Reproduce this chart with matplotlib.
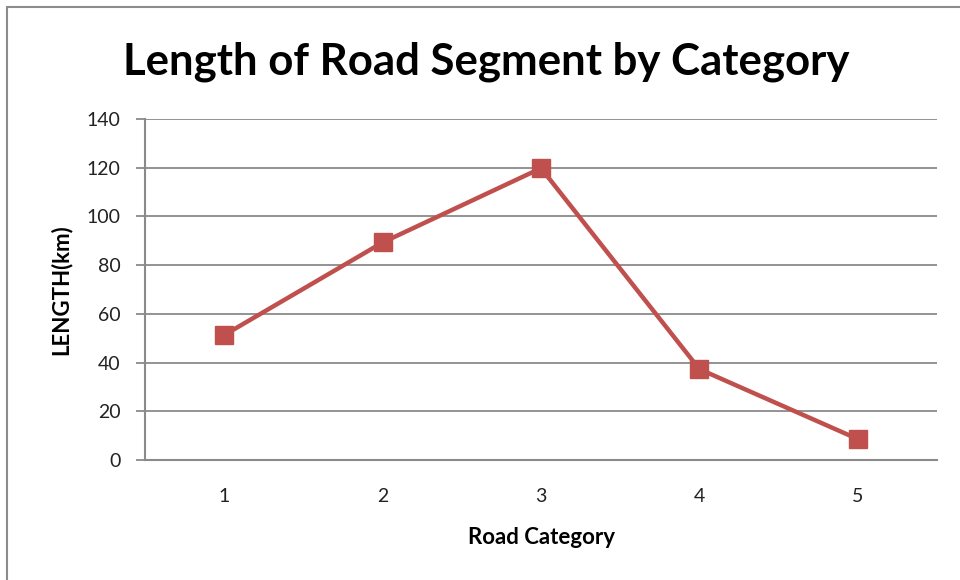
import matplotlib
matplotlib.use("Agg")
import matplotlib.pyplot as plt
from matplotlib.patches import Rectangle

plt.rcParams['font.family'] = ['Lato', 'DejaVu Sans']

categories = ["1", "2", "3", "4", "5"]
lengths = [51.3, 89.3, 119.8, 37.3, 8.6]
y_ticks = [0, 20, 40, 60, 80, 100, 120, 140]

fig = plt.figure(figsize=(9.6, 5.8), dpi=100)
fig.patch.set_facecolor('white')

# outer chart frame (left and top visible)
fig.add_artist(Rectangle((7/960, -0.05), 1.2, (580-7)/580 + 0.05, transform=fig.transFigure,
                         fill=False, edgecolor='#8c8c8c', linewidth=1.5))

ax = fig.add_axes([145/960, (580-460)/580, (937-145)/960, (460-119)/580])
x = list(range(1, len(categories) + 1))
ax.plot(x, lengths, color='#C0504D', linewidth=3.2, marker='s', markersize=13.5,
        markerfacecolor='#C0504D', markeredgecolor='#C0504D', zorder=3)

ax.set_xlim(0.5, len(categories) + 0.5)
ax.set_ylim(0, 140)
ax.set_yticks(y_ticks)
ax.set_xticks(x)
ax.set_xticklabels(categories)
ax.grid(axis='y', color='#8a8a8a', linewidth=1.3)
ax.set_axisbelow(True)

for s in ['top', 'right']:
    ax.spines[s].set_visible(False)
for s in ['left', 'bottom']:
    ax.spines[s].set_color('#8a8a8a')
    ax.spines[s].set_linewidth(1.5)

ax.tick_params(axis='y', direction='out', length=6.5, width=1.3, color='#8a8a8a',
               labelsize=14, labelcolor='#222222', pad=11)
ax.tick_params(axis='x', length=0, labelsize=14, labelcolor='#222222', pad=20)

ax.set_xlabel('Road Category', fontsize=16, fontweight='bold', labelpad=16)
ax.set_ylabel('LENGTH(km)', fontsize=16, fontweight='bold', labelpad=11)

fig.text(0.507, 0.893, 'Length of Road Segment by Category', ha='center', va='center',
         fontsize=31.5, fontweight='bold', color='black')

fig.savefig('out.png', dpi=100)
